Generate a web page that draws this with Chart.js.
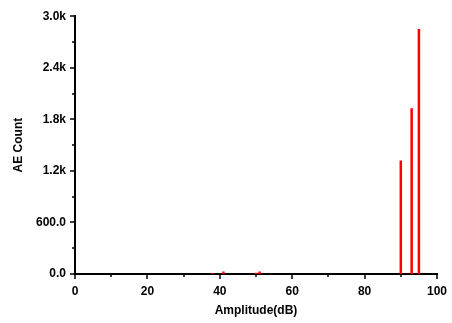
<!DOCTYPE html>
<html>
<head>
<meta charset="utf-8">
<script src="https://cdn.jsdelivr.net/npm/chart.js@4/dist/chart.umd.min.js"></script>
<style>
  html, body { margin: 0; padding: 0; background: #fff; }
  #wrap { width: 452px; height: 323px; position: relative; }
</style>
</head>
<body>
<div id="wrap"><canvas id="grafico" width="452" height="323"></canvas></div>
<script>
// amplitude bins (dB) and hit counts
const amplitudes = [38, 41, 50, 51, 90, 93, 95];
const counts = [8, 30, 15, 30, 1320, 1930, 2850];

const yLabels = { 0: "0.0", 600: "600.0", 1200: "1.2k", 1800: "1.8k", 2400: "2.4k", 3000: "3.0k" };

const FONT = { family: "Liberation Sans, Arial, sans-serif", size: 12, weight: "bold" };

// Origin style tick marks: long on labelled values, short in between
const axisTicks = {
  id: "axisTicks",
  afterDraw(chart) {
    const { ctx, chartArea, scales } = chart;
    ctx.save();
    ctx.strokeStyle = "#000";
    ctx.lineWidth = 1.5;
    ctx.beginPath();
    scales.x.ticks.forEach(t => {
      const px = Math.round(scales.x.getPixelForValue(t.value));
      const len = t.value % 20 === 0 ? 5 : 3;
      ctx.moveTo(px, chartArea.bottom);
      ctx.lineTo(px, chartArea.bottom + len);
    });
    scales.y.ticks.forEach(t => {
      const py = Math.round(scales.y.getPixelForValue(t.value));
      const len = t.value % 600 === 0 ? 5 : 3;
      ctx.moveTo(chartArea.left, py);
      ctx.lineTo(chartArea.left - len, py);
    });
    ctx.stroke();
    ctx.restore();
  }
};

const ctx = document.getElementById("grafico").getContext("2d");
new Chart(ctx, {
  type: "bar",
  data: {
    datasets: [{
      data: amplitudes.map((a, i) => ({ x: a, y: counts[i] })),
      backgroundColor: "#ff0000",
      borderWidth: 0,
      inflateAmount: 0,
      barThickness: 2.5
    }]
  },
  options: {
    responsive: false,
    animation: false,
    layout: { padding: { top: 14, right: 15, left: 0, bottom: 0 } },
    plugins: { legend: { display: false }, tooltip: { enabled: false } },
    scales: {
      x: {
        type: "linear",
        offset: false,
        min: 0,
        max: 100,
        afterFit: s => { s.height = 49; s.paddingRight = 0; },
        grid: { display: false, drawTicks: false },
        border: { display: true, color: "#000", width: 2 },
        ticks: {
          stepSize: 10,
          autoSkip: false,
          maxRotation: 0,
          padding: 10,
          color: "#000",
          font: FONT,
          callback: v => (v % 20 === 0 ? String(v) : "")
        },
        title: {
          display: true,
          text: "Amplitude(dB)",
          color: "#000",
          font: FONT,
          padding: { top: 0, bottom: 5 }
        }
      },
      y: {
        min: 0,
        max: 3000,
        afterFit: s => { s.width = 75; },
        grid: { display: false, drawTicks: false },
        border: { display: true, color: "#000", width: 2 },
        ticks: {
          stepSize: 300,
          autoSkip: false,
          padding: 9,
          color: "#000",
          font: FONT,
          callback: v => (yLabels[v] !== undefined ? yLabels[v] : "")
        },
        title: {
          display: true,
          text: "AE Count",
          color: "#000",
          font: FONT,
          padding: { top: 11, bottom: 0 }
        }
      }
    }
  },
  plugins: [axisTicks]
});
</script>
</body>
</html>
